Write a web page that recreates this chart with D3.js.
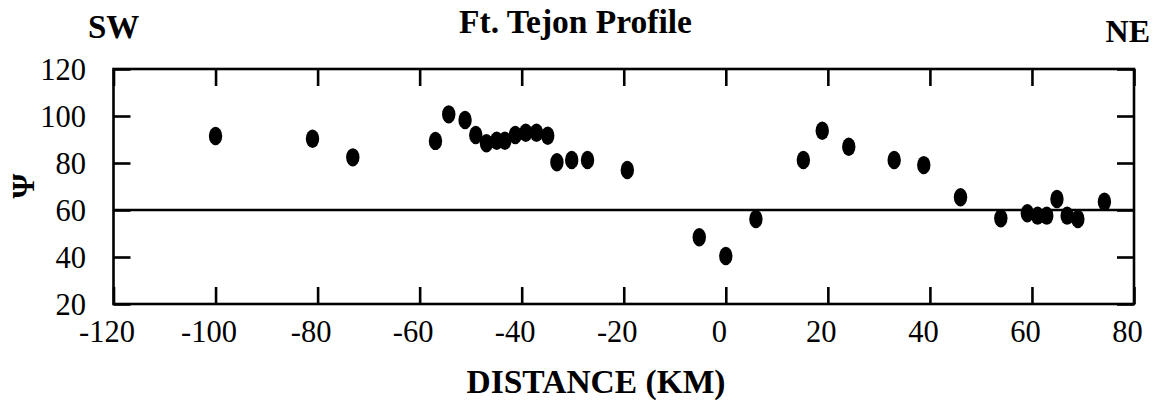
<!DOCTYPE html>
<html>
<head>
<meta charset="utf-8">
<script src="https://cdn.jsdelivr.net/npm/d3@7"></script>
<style>
  html, body { margin: 0; padding: 0; background: #fff; }
  svg { display: block; }
  text { font-family: "Liberation Serif", "Times New Roman", serif; fill: #000; }
</style>
</head>
<body>
<svg id="chart" width="1154" height="400"></svg>
<script>
// Data
const distanceKm = [-100, -81, -73.1, -56.9, -54.3, -51.1, -49.0, -46.9, -44.9, -43.3, -41.25, -39.2, -37.1, -34.9, -33.1, -30.2, -27.1, -19.3, -5.2, 0.0, 5.9, 15.2, 18.9, 24.1, 33.0, 38.8, 46.0, 53.9, 59.1, 61.1, 62.9, 64.9, 66.9, 69.0, 74.2];
const psiValues  = [91.5, 90.3, 82.4, 89.4, 100.7, 98.3, 91.9, 88.4, 89.5, 89.5, 91.9, 92.9, 92.9, 91.6, 80.3, 81.3, 81.3, 77.0, 48.4, 40.4, 56.2, 81.3, 93.7, 86.9, 81.3, 79.1, 65.4, 56.5, 58.6, 57.6, 57.6, 64.7, 57.6, 56.2, 63.5];
const xTicks = [-120, -100, -80, -60, -40, -20, 0, 20, 40, 60, 80];
const yTicks = [20, 40, 60, 80, 100, 120];
const referenceLevel = 60;
const titleText = "Ft. Tejon Profile";
const leftLabel = "SW";
const rightLabel = "NE";
const xTitle = "DISTANCE (KM)";
const yTitle = "Ψ";

const svg = d3.select("#chart");
const plot = { left: 113.5, right: 1134, top: 69, bottom: 304 };

const x = d3.scaleLinear().domain([-120, 80]).range([plot.left, plot.right]);
const y = d3.scaleLinear().domain([20, 120]).range([plot.bottom, plot.top]);

const tickLen = 17;
const lw = 2.6;

// Reference horizontal line at 60
svg.append("line")
  .attr("x1", plot.left).attr("x2", plot.right)
  .attr("y1", y(referenceLevel)).attr("y2", y(referenceLevel))
  .attr("stroke", "#000").attr("stroke-width", 2.4);

// Axes (inward ticks) using d3 axes
const axisStyle = g => {
  g.select(".domain").remove();
  g.selectAll(".tick line").attr("stroke", "#000").attr("stroke-width", lw);
  g.selectAll(".tick text").remove();
};

svg.append("g").attr("transform", `translate(0,${plot.bottom})`)
  .call(d3.axisBottom(x).tickValues(xTicks).tickSizeInner(-tickLen).tickSizeOuter(0))
  .call(axisStyle);
svg.append("g").attr("transform", `translate(0,${plot.top})`)
  .call(d3.axisTop(x).tickValues(xTicks).tickSizeInner(-tickLen).tickSizeOuter(0))
  .call(axisStyle);
svg.append("g").attr("transform", `translate(${plot.left},0)`)
  .call(d3.axisLeft(y).tickValues(yTicks).tickSizeInner(-tickLen).tickSizeOuter(0))
  .call(axisStyle);
svg.append("g").attr("transform", `translate(${plot.right},0)`)
  .call(d3.axisRight(y).tickValues(yTicks).tickSizeInner(-tickLen).tickSizeOuter(0))
  .call(axisStyle);

// Frame
svg.append("rect")
  .attr("x", plot.left).attr("y", plot.top)
  .attr("width", plot.right - plot.left).attr("height", plot.bottom - plot.top)
  .attr("fill", "none").attr("stroke", "#000").attr("stroke-width", lw);

// Tick labels
svg.append("g").selectAll("text").data(xTicks).join("text")
  .attr("x", d => x(d) - 6.5)
  .attr("y", 342)
  .attr("text-anchor", "middle")
  .attr("font-size", 30.5)
  .text(d => d);

svg.append("g").selectAll("text").data(yTicks).join("text")
  .attr("x", 86)
  .attr("y", d => y(d) + 10.5)
  .attr("text-anchor", "end")
  .attr("font-size", 30.5)
  .text(d => d);

// Points
svg.append("g").selectAll("ellipse").data(distanceKm.map((d, i) => [d, psiValues[i]])).join("ellipse")
  .attr("cx", d => x(d[0]))
  .attr("cy", d => y(d[1]))
  .attr("rx", 6.7)
  .attr("ry", 9.2)
  .attr("fill", "#000");

// Titles
svg.append("text").attr("x", 575.5).attr("y", 33)
  .attr("text-anchor", "middle").attr("font-size", 33.5).attr("font-weight", "bold")
  .text(titleText);
svg.append("text").attr("x", 88).attr("y", 38)
  .attr("text-anchor", "start").attr("font-size", 33).attr("font-weight", "bold")
  .text(leftLabel);
svg.append("text").attr("x", 1150).attr("y", 42)
  .attr("text-anchor", "end").attr("font-size", 32).attr("font-weight", "bold")
  .text(rightLabel);
svg.append("text").attr("x", 596).attr("y", 393)
  .attr("text-anchor", "middle").attr("font-size", 33.5).attr("font-weight", "bold")
  .text(xTitle);
svg.append("text")
  .attr("transform", "translate(23,186) rotate(-90)")
  .attr("text-anchor", "middle").attr("dy", "0.35em")
  .attr("font-size", 32).attr("font-weight", "bold")
  .text(yTitle);
</script>
</body>
</html>
